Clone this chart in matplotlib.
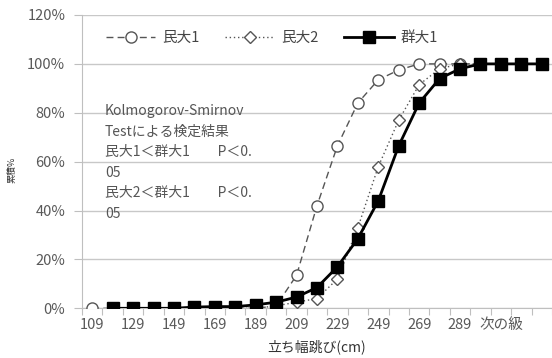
import numpy as np
import matplotlib
matplotlib.use("Agg")
import matplotlib.pyplot as plt
from matplotlib.ticker import FixedLocator, NullFormatter, FixedFormatter

plt.rcParams['font.family'] = ['Noto Sans CJK JP', 'DejaVu Sans']

categories = ['109', '119', '129', '139', '149', '159', '169', '179', '189', '199',
              '209', '219', '229', '239', '249', '259', '269', '279', '289', '299',
              '次の級', '', '']
min1 = [0, 0, 0, 0, 0, 0, 0, 0, 0, 1, 13.5, 42, 66.5, 84, 93.5, 97.5, 100, 100, 100,
        100, 100, 100, 100]
min2 = [np.nan, 0, 0, 0, 0, 0, 0, 0, 0, 1, 2.5, 4, 12, 33, 58, 77, 91.5, 98, 100,
        100, 100, 100, 100]
gun1 = [np.nan, 0, 0, 0, 0, 0.5, 0.7, 0.7, 1.4, 2.5, 4.6, 8.5, 17, 28.5, 44, 66.5,
        84, 94, 98, 100, 100, 100, 100]
series_names = ['民大1', '民大2', '群大1']
note = ("Kolmogorov-Smirnov\nTestによる検定結果\n民大1＜群大1　　P＜0.\n05\n"
        "民大2＜群大1　　P＜0.\n05")

fig = plt.figure(figsize=(5.52, 3.58), dpi=100)
ax = fig.add_axes([82/552, 1 - 308.3/358, 470/552, (308.3 - 15)/358])

x = np.arange(len(categories))
ax.plot(x, min1, linestyle=(0, (5, 3)), color='#555555', lw=1.0,
        marker='o', markersize=8, markerfacecolor='white',
        markeredgecolor='#555555', markeredgewidth=1.0, label=series_names[0], zorder=3)
ax.plot(x, min2, linestyle=(0, (1, 2)), color='#555555', lw=1.0,
        marker='D', markersize=6, markerfacecolor='white',
        markeredgecolor='#555555', markeredgewidth=1.0, label=series_names[1], zorder=4)
ax.plot(x, gun1, linestyle='-', color='black', lw=2.0,
        marker='s', markersize=8.5, markerfacecolor='black',
        markeredgecolor='black', label=series_names[2], zorder=5)

ax.set_xlim(-0.5, len(categories) - 0.5)
ax.set_ylim(0, 120)
ax.set_yticks(np.arange(0, 121, 20))
ax.set_yticklabels([f'{v}%' for v in range(0, 121, 20)])
ax.grid(axis='y', color='#c8c8c8', lw=1.0)
ax.set_axisbelow(True)

# x ticks: marks between categories, labels at every other category
ax.xaxis.set_major_locator(FixedLocator(np.arange(-0.5, len(categories), 1)))
ax.xaxis.set_major_formatter(NullFormatter())
ax.xaxis.set_minor_locator(FixedLocator(x))
ax.xaxis.set_minor_formatter(FixedFormatter([c if i % 2 == 0 else '' for i, c in enumerate(categories)]))
ax.tick_params(axis='x', which='major', length=5, color='#bfbfbf', direction='out')
ax.tick_params(axis='x', which='minor', length=0, pad=7, labelsize=10.5, labelcolor='#595959')
ax.tick_params(axis='y', length=6, color='#bfbfbf', pad=6, labelsize=10.5, labelcolor='#595959')

for s in ['top', 'right']:
    ax.spines[s].set_visible(False)
ax.spines['left'].set_color('#bfbfbf')
ax.spines['bottom'].set_color('#bfbfbf')

ax.set_xlabel('立ち幅跳び(cm)', fontsize=10, color='#333333', labelpad=5)
fig.text(12/552, 1 - 170/358, '累積%', rotation=90, fontsize=6.5, color='#333333',
         ha='center', va='center')

fig.text(105/552, 1 - 104/358, note, fontsize=10, color='#555555', ha='left', va='top',
         linespacing=1.6)

leg = ax.legend(loc='upper center', ncol=3, frameon=False, fontsize=10.5,
                handlelength=3.4, columnspacing=1.7, handletextpad=0.5,
                labelcolor='#444444')
leg.set_bbox_to_anchor((272/552, 1 - 18/358), transform=fig.transFigure)

fig.savefig('out.png', dpi=100)
